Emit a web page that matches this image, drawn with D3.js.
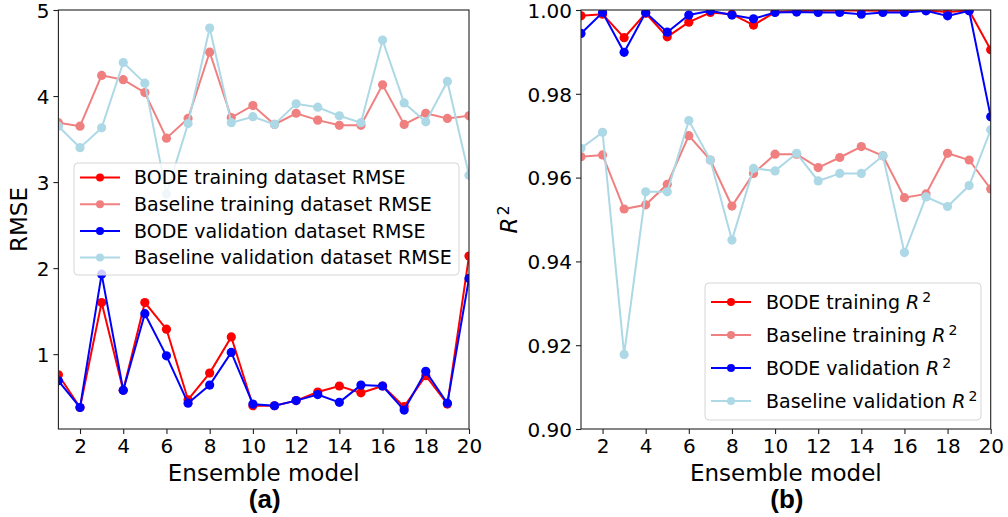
<!DOCTYPE html>
<html><head><meta charset="utf-8">
<script src="https://cdn.jsdelivr.net/npm/d3@7"></script>
<style>
body{margin:0;background:#fff;}
svg text{font-family:"DejaVu Sans",sans-serif;fill:#000;}
</style></head><body>
<svg id="chart" width="1008" height="517"></svg>
<script>
const models = [1,2,3,4,5,6,7,8,9,10,11,12,13,14,15,16,17,18,19,20];
const xTicks = [2,4,6,8,10,12,14,16,18,20];
const rmseTicks = [1,2,3,4,5];
const r2Ticks = [0.90,0.92,0.94,0.96,0.98,1.00];

const bodeTrainRMSE = [0.76,0.38,1.60,0.58,1.60,1.29,0.47,0.78,1.20,0.40,0.40,0.46,0.56,0.63,0.55,0.63,0.39,0.75,0.42,2.14];
const baseTrainRMSE = [3.69,3.65,4.24,4.19,4.04,3.51,3.74,4.51,3.75,3.89,3.67,3.80,3.72,3.66,3.66,4.13,3.67,3.80,3.74,3.77];
const bodeValRMSE   = [0.69,0.38,1.93,0.58,1.47,0.98,0.43,0.64,1.02,0.42,0.40,0.46,0.53,0.44,0.64,0.63,0.35,0.80,0.43,1.88];
const baseValRMSE   = [3.65,3.40,3.63,4.39,4.15,2.86,3.68,4.79,3.69,3.76,3.67,3.91,3.87,3.77,3.69,4.65,3.92,3.70,4.17,3.08];

const bodeTrainR2 = [0.9986,0.9990,0.9934,0.9992,0.9936,0.9971,0.9994,0.9990,0.9964,0.9995,0.9998,0.9998,0.9999,0.9999,0.9998,0.9998,0.9999,0.9995,0.9999,0.9905];
const baseTrainR2 = [0.9650,0.9654,0.9525,0.9535,0.9584,0.9700,0.9642,0.9532,0.9610,0.9656,0.9656,0.9624,0.9648,0.9674,0.9652,0.9552,0.9561,0.9658,0.9642,0.9573];
const bodeValR2   = [0.9944,0.9994,0.9899,0.9994,0.9947,0.9988,0.9998,0.9988,0.9979,0.9994,0.9995,0.9994,0.9994,0.9990,0.9994,0.9994,0.9998,0.9986,0.9998,0.9745];
const baseValR2   = [0.9670,0.9708,0.9178,0.9566,0.9566,0.9736,0.9642,0.9451,0.9622,0.9616,0.9658,0.9592,0.9610,0.9610,0.9652,0.9421,0.9554,0.9531,0.9581,0.9714];

const rmseLabels = ["BODE training dataset RMSE","Baseline training dataset RMSE","BODE validation dataset RMSE","Baseline validation dataset RMSE"];
const r2Labels = ["BODE training ","Baseline training ","BODE validation ","Baseline validation "];
const colors = ["#ff0000","#f08080","#0000ff","#add8e6"];

const svg = d3.select("#chart");

function panel(opt){
  const {left,right,top,bottom,yDomain,yTicks,yFmt,series,legend,id} = opt;
  const x = d3.scaleLinear().domain([1,20]).range([left,right]);
  const y = d3.scaleLinear().domain(yDomain).range([bottom,top]);
  const g = svg.append("g");
  g.append("clipPath").attr("id",id).append("rect")
    .attr("x",left).attr("y",top).attr("width",right-left).attr("height",bottom-top);
  const plot = g.append("g").attr("clip-path",`url(#${id})`);
  const line = d3.line().x((d,i)=>x(models[i])).y(d=>y(d));
  series.forEach((s,k)=>{
    plot.append("path").attr("d",line(s)).attr("fill","none")
      .attr("stroke",colors[k]).attr("stroke-width",2);
    plot.selectAll(null).data(s).enter().append("circle")
      .attr("cx",(d,i)=>x(models[i])).attr("cy",d=>y(d)).attr("r",4.6)
      .attr("fill",colors[k]);
  });
  g.append("rect").attr("x",left).attr("y",top).attr("width",right-left).attr("height",bottom-top)
    .attr("fill","none").attr("stroke","#222").attr("stroke-width",1.1);
  const xa = g.append("g").attr("transform",`translate(0,${bottom})`)
    .call(d3.axisBottom(x).tickValues(xTicks).tickSize(5).tickPadding(4).tickFormat(d3.format("d")));
  const ya = g.append("g").attr("transform",`translate(${left},0)`)
    .call(d3.axisLeft(y).tickValues(yTicks).tickSize(5).tickPadding(4).tickFormat(yFmt));
  [xa,ya].forEach(a=>{
    a.select(".domain").remove();
    a.selectAll("line").attr("stroke","#222").attr("stroke-width",1.1);
    a.selectAll("text").style("font-family","DejaVu Sans").style("font-size","20px").attr("fill","#111");
  });
  xa.selectAll("text").attr("dy","0.76em");
  ya.selectAll("text").attr("dy","0.36em");
  g.append("text").attr("x",(left+right)/2).attr("y",481).attr("text-anchor","middle")
    .style("font-size","23px").attr("fill","#111").text("Ensemble model");
  g.append("text").attr("x",(left+right)/2+1).attr("y",508).attr("text-anchor","middle")
    .style("font-family","Liberation Sans, Arial, sans-serif").style("font-weight","bold")
    .style("font-size","26px").text(opt.letter);
  const L = legend;
  g.append("rect").attr("x",L.x).attr("y",L.y).attr("width",L.w).attr("height",L.h)
    .attr("rx",4).attr("fill","#fff").attr("fill-opacity",0.8).attr("stroke","#d6d6d6").attr("stroke-width",1);
  L.labels.forEach((lab,k)=>{
    const cy = L.y0 + k*L.dy;
    g.append("line").attr("x1",L.hx).attr("x2",L.hx+40).attr("y1",cy).attr("y2",cy)
      .attr("stroke",colors[k]).attr("stroke-width",2);
    g.append("circle").attr("cx",L.hx+20).attr("cy",cy).attr("r",4).attr("fill",colors[k]);
    const t = g.append("text").attr("x",L.tx).attr("y",cy).attr("dy","0.36em")
      .style("font-size","19px").attr("fill","#111");
    t.append("tspan").text(lab);
    if(L.math){
      t.append("tspan").style("font-style","italic").text("R");
      t.append("tspan").attr("dy","-0.5em").attr("dx","3").style("font-size","14px").text("2");
    }
  });
}

panel({id:"clipA",left:58.4,right:469,top:10,bottom:429,yDomain:[0.13,5.0],yTicks:rmseTicks,
  yFmt:d3.format("d"),series:[bodeTrainRMSE,baseTrainRMSE,bodeValRMSE,baseValRMSE],letter:"(a)",
  legend:{x:74,y:163,w:385,h:112,y0:177.5,dy:26.7,hx:80,tx:134,labels:rmseLabels,math:false}});

panel({id:"clipB",left:581,right:990.7,top:10,bottom:429,yDomain:[0.90,1.00],yTicks:r2Ticks,
  yFmt:d3.format(".2f"),series:[bodeTrainR2,baseTrainR2,bodeValR2,baseValR2],letter:"(b)",
  legend:{x:705,y:283,w:276,h:137,y0:302,dy:33,hx:711,tx:766,labels:r2Labels,math:true}});

svg.append("text").attr("transform","translate(27,219.5) rotate(-90)").attr("text-anchor","middle")
  .style("font-size","23px").attr("fill","#111").text("RMSE");
const yt = svg.append("text").attr("transform","translate(517,219.5) rotate(-90)").attr("text-anchor","middle")
  .style("font-size","23px").attr("fill","#111");
yt.append("tspan").style("font-style","italic").text("R");
yt.append("tspan").attr("dy","-0.5em").attr("dx","2").style("font-size","16px").text("2");
</script>
</body></html>
